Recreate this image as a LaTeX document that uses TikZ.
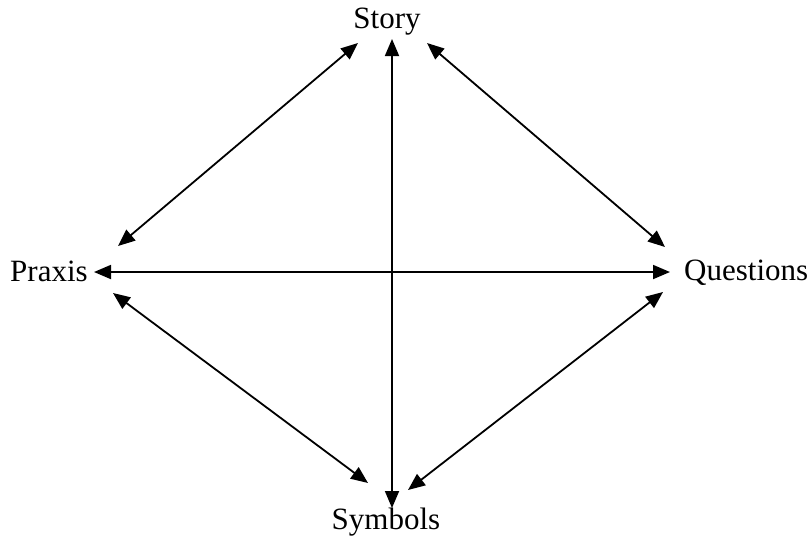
\documentclass[tikz,border=0pt]{standalone}
\usepackage{fontspec}
\setmainfont{Liberation Serif}
\usetikzlibrary{arrows.meta}
\begin{document}
\begin{tikzpicture}[x=1pt,y=-1pt,
  lbl/.style={inner sep=0pt,font=\fontsize{31}{37}\selectfont},
  link/.style={line width=1.8pt,{Triangle[length=17pt,width=14pt]}-{Triangle[length=17pt,width=14pt]}}]
\useasboundingbox (0,0) rectangle (812,539);
\node[lbl,anchor=base] (story) at (387,28) {Story};
\node[lbl,anchor=base west] (praxis) at (10,281) {Praxis};
\node[lbl,anchor=base west] (questions) at (684,280) {Questions};
\node[lbl,anchor=base] (symbols) at (386,529) {Symbols};
% arrow end points
\coordinate (vT) at (392,39);
\coordinate (vB) at (392,508);
\coordinate (hL) at (94,272);
\coordinate (hR) at (670,272);
\coordinate (spS) at (358,43);
\coordinate (spP) at (118,246);
\coordinate (sqS) at (427,43);
\coordinate (sqQ) at (665,247);
\coordinate (pyP) at (113,293);
\coordinate (pyY) at (368,483);
\coordinate (qyQ) at (663,292);
\coordinate (qyY) at (408,490);
\draw[link] (vT) -- (vB);
\draw[link] (hL) -- (hR);
\draw[link] (spS) -- (spP);
\draw[link] (sqS) -- (sqQ);
\draw[link] (pyP) -- (pyY);
\draw[link] (qyQ) -- (qyY);
\end{tikzpicture}
\end{document}
